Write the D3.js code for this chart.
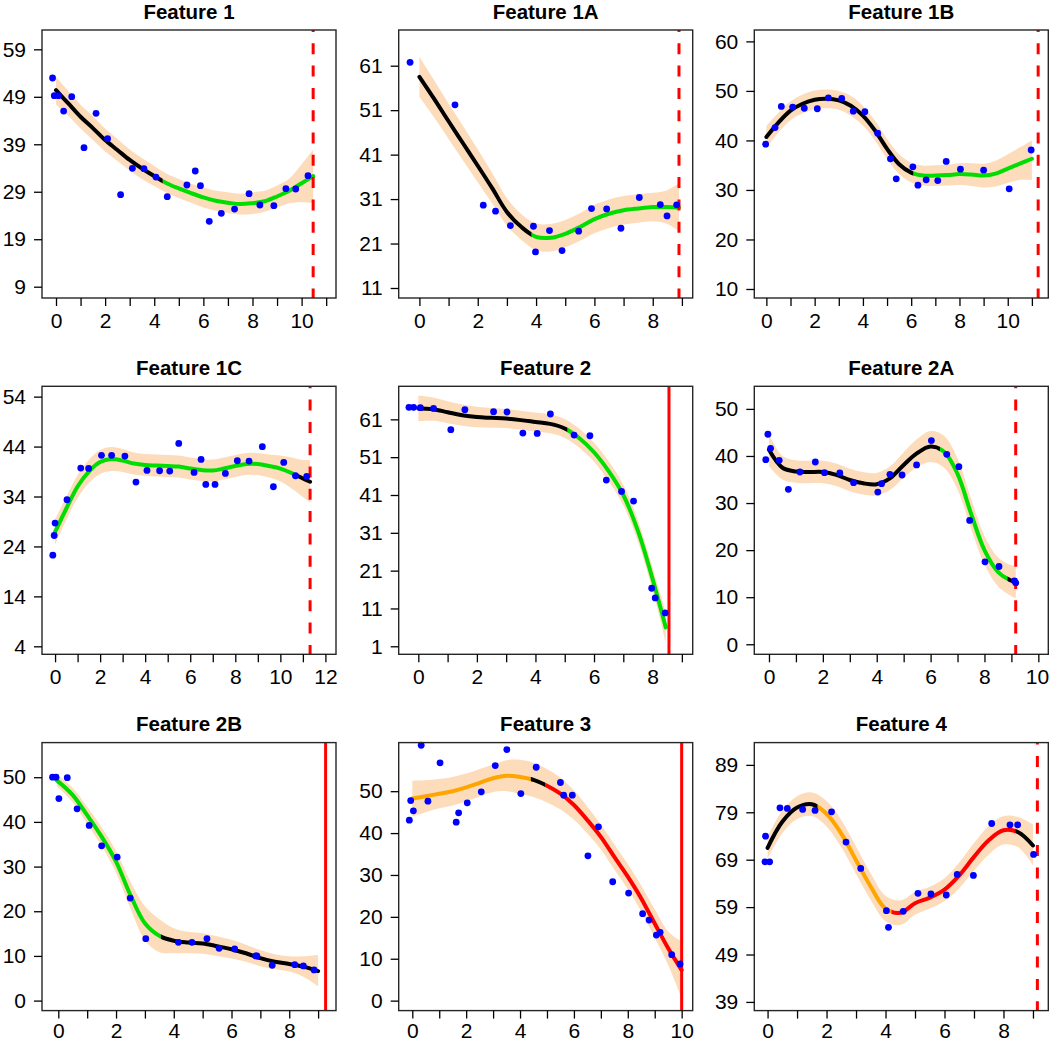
<!DOCTYPE html>
<html>
<head>
<meta charset="utf-8">
<script src="https://cdn.jsdelivr.net/npm/d3@7/dist/d3.min.js"></script>
<style>
  html, body { margin: 0; padding: 0; background: #fff; }
  svg { display: block; font-family: "Liberation Sans", Arial, sans-serif; }
</style>
</head>
<body>
<svg id="chart" width="1050" height="1043"></svg>
<script>
// ---------------- DATA ----------------
const titles = ["Feature 1", "Feature 1A", "Feature 1B", "Feature 1C", "Feature 2", "Feature 2A", "Feature 2B", "Feature 3", "Feature 4"];

// observed points [x, y]
const f1Pts = [[-0.14,52.96],[-0.07,49.24],[0.1,49.24],[0.31,46.0],[0.64,49.03],[1.14,38.28],[1.63,45.52],[2.1,40.18],[2.63,28.38],[3.11,33.93],[3.58,33.86],[4.07,32.1],[4.53,27.96],[5.33,30.42],[5.67,33.37],[5.88,30.28],[6.24,22.76],[6.73,24.45],[7.27,25.36],[7.86,28.6],[8.3,26.21],[8.87,26.07],[9.36,29.65],[9.76,29.58],[10.26,32.39]];
const f1aPts = [[-0.32,61.75],[1.22,52.2],[2.19,29.62],[2.61,28.27],[3.12,25.04],[3.91,24.89],[3.98,19.11],[4.46,23.92],[4.89,19.41],[5.46,23.77],[5.9,28.87],[6.42,28.79],[6.91,24.44],[7.54,31.35],[8.26,29.77],[8.49,27.22],[8.82,29.7]];
const f1bPts = [[-0.03,39.24],[0.36,42.6],[0.62,46.86],[1.09,46.73],[1.57,46.5],[2.11,46.4],[2.57,48.61],[3.12,48.47],[3.6,45.9],[4.08,45.8],[4.61,41.47],[5.14,36.28],[5.38,32.24],[6.07,34.67],[6.28,30.96],[6.62,32.04],[7.1,31.9],[7.45,35.75],[8.04,34.2],[9.0,34.0],[10.06,30.23],[10.97,38.07]];
const f1cPts = [[-0.1,22.25],[-0.04,26.19],[0.0,28.67],[0.53,33.35],[1.14,39.7],[1.49,39.63],[2.06,42.24],[2.51,42.24],[3.1,42.1],[3.59,36.89],[4.08,39.23],[4.64,39.16],[5.09,39.09],[5.49,44.64],[6.17,38.82],[6.48,41.43],[6.69,36.42],[7.1,36.42],[7.56,38.62],[8.09,41.16],[8.61,41.1],[9.2,43.97],[9.69,35.95],[10.15,40.83],[10.67,38.16],[11.17,38.02]];
const f2Pts = [[-0.32,64.18],[-0.16,64.18],[0.07,64.09],[0.52,63.9],[1.11,58.26],[1.59,63.56],[2.57,63.03],[3.03,62.94],[3.57,57.38],[4.06,57.29],[4.51,62.41],[5.32,56.85],[5.86,56.67],[6.42,44.94],[6.94,41.94],[7.35,39.38],[7.97,16.34],[8.09,13.78],[8.43,9.81]];
const f2aPts = [[-0.12,39.22],[-0.04,44.61],[0.06,41.63],[0.38,39.08],[0.72,32.91],[1.15,36.6],[1.72,38.72],[2.06,36.45],[2.63,36.38],[3.14,34.33],[4.04,32.34],[4.18,34.11],[4.49,36.1],[4.94,35.96],[5.48,38.09],[6.03,43.26],[6.6,40.35],[7.05,37.73],[7.45,26.31],[8.02,17.52],[8.54,16.52],[9.11,13.48],[9.16,13.05]];
const f2bPts = [[-0.2,50.0],[-0.08,50.0],[0.31,49.9],[0.02,45.23],[0.65,42.92],[1.07,39.2],[1.5,34.65],[2.04,32.12],[2.49,22.95],[3.03,13.86],[4.16,13.04],[4.63,13.04],[5.15,13.86],[5.57,11.7],[6.11,11.55],[6.84,9.99],[6.88,10.0],[7.41,7.9],[8.19,8.05],[8.49,7.75],[8.86,6.86]];
const f3Pts = [[-0.11,43.08],[-0.06,47.77],[0.04,45.31],[0.33,60.97],[0.58,47.62],[1.03,56.76],[1.63,42.61],[1.72,44.83],[2.04,47.22],[2.56,49.84],[3.08,56.12],[3.51,59.94],[4.03,49.44],[4.6,55.72],[5.5,52.07],[5.62,49.05],[5.94,49.05],[6.52,34.58],[6.91,41.49],[7.44,28.38],[8.03,25.68],[8.55,20.75],[8.79,19.24],[9.06,15.66],[9.2,16.3],[9.63,10.97],[9.94,8.74]];
const f4Pts = [[-0.07,73.97],[-0.09,68.56],[0.07,68.56],[0.42,79.95],[0.67,79.81],[1.19,79.6],[1.61,79.39],[2.17,79.1],[2.66,72.71],[3.16,67.16],[4.03,58.24],[4.1,54.73],[4.6,58.1],[5.1,61.9],[5.54,61.76],[6.06,61.55],[6.43,65.9],[6.98,65.69],[7.6,76.64],[8.22,76.36],[8.48,76.36],[9.02,70.11]];

// fitted curve with confidence band [x, fit, lower, upper]
const f1Fit = [[0,50.4,47.4,53.2],[0.5,47.6,45.0,50.2],[1,44.8,42.3,47.3],[1.5,42.4,39.9,44.9],[2,39.9,37.5,42.3],[2.5,37.8,35.5,40.1],[3,35.7,33.5,37.9],[3.5,33.9,31.7,36.1],[4,32.3,30.2,34.4],[4.5,30.8,28.8,32.8],[5,29.7,27.7,31.7],[5.5,28.7,26.7,30.7],[6,27.8,25.7,29.9],[6.5,27.1,25.0,29.2],[7,26.7,24.5,28.9],[7.5,26.4,24.2,28.6],[8,26.6,24.3,28.9],[8.5,27.0,24.8,29.2],[9,28.0,25.7,30.3],[9.5,29.2,26.6,31.8],[10,30.8,26.8,34.8],[10.47,32.3,26.6,37.9]];
const f1aFit = [[0,58.5,54.0,63.0],[0.5,53.6,49.4,57.8],[1,48.5,44.5,52.5],[1.5,43.5,39.6,47.4],[2,38.5,34.8,42.2],[2.5,33.4,30.0,36.8],[3,28.1,25.0,31.2],[3.5,24.7,21.8,27.6],[4,22.5,19.5,25.5],[4.5,22.3,19.2,25.4],[5,23.2,20.1,26.3],[5.5,24.7,21.6,27.8],[6,26.5,23.3,29.7],[6.5,27.7,24.5,30.9],[7,28.5,25.3,31.7],[7.5,28.9,25.7,32.1],[8,29.2,26.0,32.4],[8.5,29.2,25.4,33.0],[8.9,29.1,23.8,34.6]];
const f1bFit = [[0,40.7,38.5,42.9],[0.5,43.6,41.6,45.6],[1,46.0,44.1,47.9],[1.5,47.4,45.5,49.3],[2,48.2,46.3,50.1],[2.5,48.4,46.5,50.3],[3,48.1,46.2,50.0],[3.5,47.0,45.0,49.0],[4,45.0,43.0,47.0],[4.5,42.0,40.0,44.0],[5,38.3,36.3,40.3],[5.5,35.2,33.2,37.2],[6,33.5,31.5,35.5],[6.5,32.9,30.9,34.9],[7,32.9,30.8,35.0],[7.5,33.0,30.9,35.1],[8,33.2,31.0,35.4],[8.5,33.1,30.8,35.4],[9,32.9,30.5,35.3],[9.5,33.3,30.7,35.9],[10,34.3,31.4,37.2],[10.5,35.3,32.0,38.6],[11,36.3,32.0,40.0]];
const f1cFit = [[0,26.9,24.4,29.4],[0.5,31.6,29.3,33.9],[1,36.0,33.7,38.3],[1.5,39.0,36.7,41.3],[2,40.9,38.5,43.3],[2.5,41.5,39.1,43.9],[3,41.2,38.9,43.5],[3.5,40.6,38.4,42.8],[4,40.3,38.1,42.5],[4.5,40.2,38.0,42.4],[5,40.1,37.9,42.3],[5.5,40.0,37.8,42.2],[6,39.6,37.4,41.8],[6.5,39.3,37.1,41.5],[7,39.2,37.0,41.4],[7.5,39.6,37.4,41.8],[8,40.1,37.9,42.3],[8.5,40.5,38.3,42.7],[9,40.5,38.3,42.7],[9.5,40.1,37.8,42.4],[10,39.6,37.0,42.2],[10.5,38.7,35.6,41.8],[11,37.6,33.9,41.3],[11.32,36.95,32.8,41.3]];
const f2Fit = [[0,63.9,60.5,67.3],[0.5,63.7,60.6,66.8],[1,62.9,60.0,65.8],[1.5,62.1,59.3,64.9],[2,61.6,58.9,64.3],[2.5,61.4,58.8,64.0],[3,61.2,58.7,63.7],[3.5,60.8,58.3,63.3],[4,60.3,57.8,62.8],[4.5,59.8,57.3,62.3],[5,58.6,56.1,61.1],[5.5,56.0,53.5,58.5],[6,52.3,49.8,54.8],[6.5,47.3,44.7,49.9],[7,41.0,38.3,43.7],[7.5,31.5,28.7,34.3],[8,18.8,15.8,21.8],[8.45,6.0,2.0,10.0]];
const f2aFit = [[0,41.3,37.8,44.6],[0.5,37.5,35.0,40.0],[1,36.7,34.3,39.1],[1.5,36.6,34.2,39.0],[2,36.6,34.2,39.0],[2.5,36.0,33.6,38.4],[3,34.9,32.5,37.3],[3.5,34.2,31.8,36.6],[4,34.0,31.6,36.4],[4.5,35.3,32.8,37.8],[5,38.1,35.4,40.8],[5.5,40.6,37.6,43.6],[6,42.0,38.7,45.3],[6.5,40.9,37.5,44.3],[7,36.2,32.9,39.5],[7.5,27.8,24.6,31.0],[8,20.0,17.0,23.0],[8.5,15.4,12.3,18.5],[9,13.5,10.2,16.8],[9.16,13.3,9.8,16.8]];
const f2bFit = [[-0.05,49.3,48.0,50.6],[0.5,46.0,44.4,47.6],[1,41.5,39.6,43.4],[1.5,36.7,34.6,38.8],[2,31.1,28.7,33.5],[2.5,23.6,20.6,26.6],[3,17.3,13.5,21.1],[3.5,14.5,10.8,18.2],[4,13.4,10.6,16.2],[4.5,13.0,10.6,15.4],[5,12.8,10.5,15.1],[5.5,12.2,10.0,14.4],[6,11.5,9.4,13.6],[6.5,10.6,8.7,12.5],[7,9.5,7.7,11.3],[7.5,8.7,7.0,10.4],[8,8.2,6.5,9.9],[8.5,7.6,5.3,9.9],[9,6.6,3.2,10.2]];
const f3Fit = [[0,48.25,44.0,52.5],[0.5,48.8,45.0,52.6],[1,49.4,45.9,52.9],[1.5,50.0,46.6,53.4],[2,50.9,47.6,54.2],[2.5,52.0,48.7,55.3],[3,53.1,49.8,56.4],[3.5,53.7,50.0,57.4],[4,53.4,49.3,57.5],[4.5,52.7,48.6,56.8],[5,51.3,47.3,55.3],[5.5,49.4,45.6,53.2],[6,46.7,43.2,50.2],[6.5,43.1,39.9,46.3],[7,39.1,36.1,42.1],[7.5,34.3,31.3,37.3],[8,29.6,26.6,32.6],[8.5,24.4,21.3,27.5],[9,18.4,15.0,21.8],[9.5,12.5,8.5,16.5],[10,7.3,0.5,14.1]];
const f4Fit = [[0,71.5,69.2,73.8],[0.5,77.0,74.6,79.4],[1,80.0,77.6,82.4],[1.5,80.7,78.2,83.2],[2,78.7,76.0,81.4],[2.5,74.5,71.6,77.4],[3,68.9,66.0,71.8],[3.5,63.3,60.5,66.1],[4,58.7,56.0,61.4],[4.5,57.8,55.2,60.4],[5,59.8,57.4,62.2],[5.5,61.0,58.7,63.3],[6,62.7,60.3,65.1],[6.5,65.7,63.0,68.4],[7,69.6,66.7,72.5],[7.5,73.1,70.1,76.1],[8,75.2,72.2,78.2],[8.5,74.8,71.6,78.0],[9,72.0,67.8,76.4]];

// colored segments of the fitted curve [from x, to x, colour key]
const f1Seg = [[0,4.35,"black"],[4.35,10.47,"green"]];
const f1aSeg = [[0,3.85,"black"],[3.85,8.9,"green"]];
const f1bSeg = [[0,6.1,"black"],[6.1,11,"green"]];
const f1cSeg = [[0,10.7,"green"],[10.7,11.32,"black"]];
const f2Seg = [[0,5.1,"black"],[5.1,8.45,"green"]];
const f2aSeg = [[0,6.35,"black"],[6.35,8.85,"green"],[8.85,9.16,"black"]];
const f2bSeg = [[-0.05,3.55,"green"],[3.55,9,"black"]];
const f3Seg = [[0,4.4,"orange"],[4.4,4.95,"black"],[4.95,10,"red"]];
const f4Seg = [[0,1.7,"black"],[1.7,4.2,"orange"],[4.2,8.4,"red"],[8.4,9,"black"]];

// red vertical cut line [x, dashed?]
const cutLines = [[10.47,true],[8.9,true],[11.26,true],[11.32,true],[8.56,false],[9.16,true],[9.26,false],[10.0,false],[9.15,true]];

// axis ticks
const f1YTicks = [9,19,29,39,49,59];
const f1aYTicks = [11,21,31,41,51,61];
const f1bYTicks = [10,20,30,40,50,60];
const f1cYTicks = [4,14,24,34,44,54];
const f2YTicks = [1,11,21,31,41,51,61];
const f2aYTicks = [0,10,20,30,40,50];
const f2bYTicks = [0,10,20,30,40,50];
const f3YTicks = [0,10,20,30,40,50];
const f4YTicks = [39,49,59,69,79,89];
const xTickMax = [11,9,11,12,9,10,9,10,9];

// ---------------- LAYOUT / STYLE ----------------
const W = 1050, H = 1043;
const colors = { black: "#000000", green: "#00DD00", orange: "#FFA500", red: "#FF0000" };
const bandColor = "#FDDCBB";
const colLeft = [42, 398.7, 754.3];
const rowTop = [30, 386.3, 742.6];
const boxW = 294, boxH = 268;
const xDomains = [[-0.57,11.40],[-0.71,9.37],[-0.50,11.68],[-0.58,12.47],[-0.67,9.37],[-0.545,10.37],[-0.565,9.62],[-0.505,10.41],[-0.45,9.52]];
const yDomains = [[6.62,63.07],[8.75,69.03],[8.18,62.3],[2.4,56.07],[-1.12,69.74],[-2.13,54.8],[-2.24,57.75],[-2.38,61.6],[37.17,93.7]];

const panels = [
  { pts: f1Pts, fit: f1Fit, seg: f1Seg, yTicks: f1YTicks },
  { pts: f1aPts, fit: f1aFit, seg: f1aSeg, yTicks: f1aYTicks },
  { pts: f1bPts, fit: f1bFit, seg: f1bSeg, yTicks: f1bYTicks },
  { pts: f1cPts, fit: f1cFit, seg: f1cSeg, yTicks: f1cYTicks },
  { pts: f2Pts, fit: f2Fit, seg: f2Seg, yTicks: f2YTicks },
  { pts: f2aPts, fit: f2aFit, seg: f2aSeg, yTicks: f2aYTicks },
  { pts: f2bPts, fit: f2bFit, seg: f2bSeg, yTicks: f2bYTicks },
  { pts: f3Pts, fit: f3Fit, seg: f3Seg, yTicks: f3YTicks },
  { pts: f4Pts, fit: f4Fit, seg: f4Seg, yTicks: f4YTicks }
];

const svg = d3.select("#chart");
const defs = svg.append("defs");

panels.forEach((p, i) => {
  const col = i % 3, row = Math.floor(i / 3);
  const left = colLeft[col], top = rowTop[row];
  const x = d3.scaleLinear().domain(xDomains[i]).range([0, boxW]);
  const y = d3.scaleLinear().domain(yDomains[i]).range([boxH, 0]);
  const g = svg.append("g").attr("transform", `translate(${left},${top})`);

  const clipId = "clip" + i;
  defs.append("clipPath").attr("id", clipId)
    .append("rect").attr("x", 0).attr("y", 0).attr("width", boxW).attr("height", boxH);

  const plot = g.append("g").attr("clip-path", `url(#${clipId})`);

  // confidence band
  const area = d3.area()
    .x(d => x(d[0])).y0(d => y(d[2])).y1(d => y(d[3]))
    .curve(d3.curveCatmullRom.alpha(0.5));
  plot.append("path").datum(p.fit).attr("d", area).attr("fill", bandColor).attr("stroke", "none");

  // fitted line by segment
  const line = d3.line().x(d => x(d[0])).y(d => y(d[1])).curve(d3.curveCatmullRom.alpha(0.5));
  const xMin = p.fit[0][0], xMax = p.fit[p.fit.length - 1][0];
  p.seg.forEach((s, k) => {
    const sid = `seg${i}_${k}`;
    let x0 = x(s[0]), x1 = x(s[1]);
    if (s[0] <= xMin) x0 -= 4;
    if (s[1] >= xMax) x1 += 4;
    defs.append("clipPath").attr("id", sid)
      .append("rect").attr("x", x0).attr("y", -20).attr("width", x1 - x0).attr("height", boxH + 40);
    plot.append("g").attr("clip-path", `url(#${sid})`)
      .append("path").datum(p.fit).attr("d", line)
      .attr("fill", "none").attr("stroke", colors[s[2]])
      .attr("stroke-width", 4).attr("stroke-linecap", "round").attr("stroke-linejoin", "round");
  });

  // cut line
  const c = cutLines[i];
  const vl = plot.append("line")
    .attr("x1", x(c[0])).attr("x2", x(c[0]))
    .attr("y1", 0).attr("y2", boxH)
    .attr("stroke", "#FF0000").attr("stroke-width", 3);
  if (c[1]) vl.attr("stroke-dasharray", "11,11.3").attr("stroke-dashoffset", 9);

  // points
  g.append("g").selectAll("circle").data(p.pts).join("circle")
    .attr("cx", d => x(d[0])).attr("cy", d => y(d[1])).attr("r", 3.4)
    .attr("fill", "#0000FF");

  // box
  g.append("rect").attr("x", 0).attr("y", 0).attr("width", boxW).attr("height", boxH)
    .attr("fill", "none").attr("stroke", "#262626").attr("stroke-width", 1.4);

  // y axis
  const yAxis = d3.axisLeft(y).tickValues(p.yTicks).tickSize(8).tickPadding(8).tickFormat(d3.format("d"));
  const ya = g.append("g").call(yAxis);
  ya.select(".domain").remove();
  ya.selectAll(".tick line").attr("stroke", "#000").attr("stroke-width", 1.3);
  ya.selectAll(".tick text").attr("font-size", 21).attr("fill", "#000")
    .attr("font-family", "'Liberation Sans', Arial, sans-serif");

  // x axis (bottom row pulled up slightly so labels stay inside the picture)
  const xt = d3.range(0, xTickMax[i] + 1);
  const xAxis = d3.axisBottom(x).tickValues(xt).tickSize(8).tickPadding(row === 2 ? 4 : 7)
    .tickFormat(d => (d % 2 === 0 ? String(d) : ""));
  const xa = g.append("g").attr("transform", `translate(0,${boxH})`).call(xAxis);
  xa.select(".domain").remove();
  xa.selectAll(".tick line").attr("stroke", "#000").attr("stroke-width", 1.3);
  xa.selectAll(".tick text").attr("font-size", 21).attr("fill", "#000")
    .attr("font-family", "'Liberation Sans', Arial, sans-serif")
    .attr("dx", d => (left + x(d) + 12 > W - 1 ? -(left + x(d) + 12 - (W - 1)) : 0));

  // title
  g.append("text").attr("x", boxW / 2).attr("y", -11.5).attr("text-anchor", "middle")
    .attr("font-size", 20.5).attr("font-weight", "bold").attr("fill", "#000")
    .text(titles[i]);
});
</script>
</body>
</html>
